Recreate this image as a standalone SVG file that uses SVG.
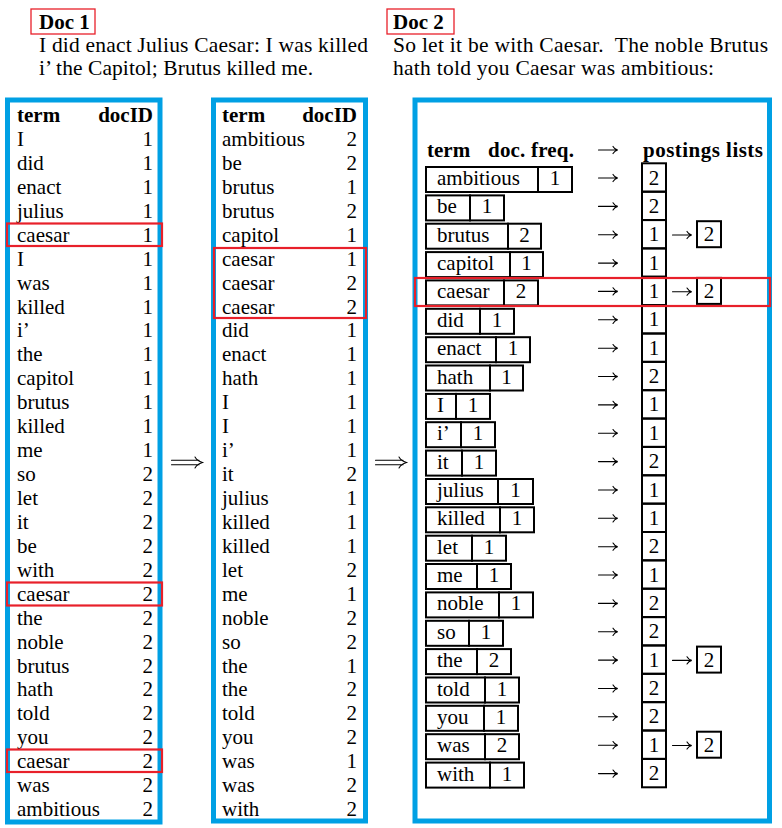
<svg xmlns="http://www.w3.org/2000/svg" width="782" height="828" viewBox="0 0 782 828">
<style>
text{font-family:"Liberation Serif","Times New Roman",serif;font-size:21px;fill:#000}
.b{font-weight:bold}
.r{text-anchor:end}
.m{text-anchor:middle}
.top{font-size:21.5px}
.blue{fill:#fff;stroke:#00a0e4;stroke-width:5}
.red{fill:none;stroke:#e8202a;stroke-width:2.2}
.redt{fill:none;stroke:#e8202a;stroke-width:1.3}
.bx{fill:none;stroke:#000;stroke-width:2}
.arr{fill:none;stroke:#000;stroke-width:1.1;stroke-linecap:round}
</style>
<defs>
<path id="ra" class="arr" d="M-9.5,0 H9 M5,-3.6 Q6.5,-0.8 9.7,0 Q6.5,0.8 5,3.6"/>
<path id="da" class="arr" d="M-15.5,-2.2 H12 M-15.5,2.2 H12 M8,-5.5 Q10,-1.8 15.5,0 Q10,1.8 8,5.5"/>
</defs>
<rect width="782" height="828" fill="#fff"/>

<g id="doc1">
<rect class="redt" x="31" y="9" width="64" height="25"/>
<text class="b" x="39" y="29">Doc 1</text>
<text class="top" x="39" y="52" textLength="329" lengthAdjust="spacing">I did enact Julius Caesar: I was killed</text>
<text class="top" x="39" y="75" textLength="274" lengthAdjust="spacing">i’ the Capitol; Brutus killed me.</text>
</g>

<g id="doc2">
<rect class="redt" x="387" y="9" width="67" height="25"/>
<text class="b" x="393" y="29">Doc 2</text>
<text class="top" x="393" y="52" xml:space="preserve" textLength="375" lengthAdjust="spacing">So let it be with Caesar.  The noble Brutus</text>
<text class="top" x="393" y="75" textLength="321" lengthAdjust="spacing">hath told you Caesar was ambitious:</text>
</g>

<g id="list1">
<rect class="blue" x="7.5" y="100" width="152.5" height="722"/>
<text class="b" x="17" y="122">term</text><text class="b r" x="153" y="122">docID</text>
<g>
<text x="17" y="146">I</text><text class="r" x="153" y="146">1</text>
<text x="17" y="169.9">did</text><text class="r" x="153" y="169.9">1</text>
<text x="17" y="193.9">enact</text><text class="r" x="153" y="193.9">1</text>
<text x="17" y="217.8">julius</text><text class="r" x="153" y="217.8">1</text>
<text x="17" y="241.7">caesar</text><text class="r" x="153" y="241.7">1</text>
<text x="17" y="265.7">I</text><text class="r" x="153" y="265.7">1</text>
<text x="17" y="289.6">was</text><text class="r" x="153" y="289.6">1</text>
<text x="17" y="313.5">killed</text><text class="r" x="153" y="313.5">1</text>
<text x="17" y="337.4">i’</text><text class="r" x="153" y="337.4">1</text>
<text x="17" y="361.4">the</text><text class="r" x="153" y="361.4">1</text>
<text x="17" y="385.3">capitol</text><text class="r" x="153" y="385.3">1</text>
<text x="17" y="409.2">brutus</text><text class="r" x="153" y="409.2">1</text>
<text x="17" y="433.2">killed</text><text class="r" x="153" y="433.2">1</text>
<text x="17" y="457.1">me</text><text class="r" x="153" y="457.1">1</text>
<text x="17" y="481">so</text><text class="r" x="153" y="481">2</text>
<text x="17" y="505">let</text><text class="r" x="153" y="505">2</text>
<text x="17" y="528.9">it</text><text class="r" x="153" y="528.9">2</text>
<text x="17" y="552.8">be</text><text class="r" x="153" y="552.8">2</text>
<text x="17" y="576.7">with</text><text class="r" x="153" y="576.7">2</text>
<text x="17" y="600.7">caesar</text><text class="r" x="153" y="600.7">2</text>
<text x="17" y="624.6">the</text><text class="r" x="153" y="624.6">2</text>
<text x="17" y="648.5">noble</text><text class="r" x="153" y="648.5">2</text>
<text x="17" y="672.5">brutus</text><text class="r" x="153" y="672.5">2</text>
<text x="17" y="696.4">hath</text><text class="r" x="153" y="696.4">2</text>
<text x="17" y="720.3">told</text><text class="r" x="153" y="720.3">2</text>
<text x="17" y="744.3">you</text><text class="r" x="153" y="744.3">2</text>
<text x="17" y="768.2">caesar</text><text class="r" x="153" y="768.2">2</text>
<text x="17" y="792.1">was</text><text class="r" x="153" y="792.1">2</text>
<text x="17" y="816">ambitious</text><text class="r" x="153" y="816">2</text>
</g>
<rect class="red" x="7" y="223.5" width="155" height="22.5"/>
<rect class="red" x="7" y="582.5" width="155" height="23"/>
<rect class="red" x="7" y="749.5" width="155" height="22.5"/>
</g>

<g id="list2">
<rect class="blue" x="213.5" y="100" width="152" height="721"/>
<text class="b" x="222" y="122">term</text><text class="b r" x="357" y="122">docID</text>
<g>
<text x="222" y="146">ambitious</text><text class="r" x="357" y="146">2</text>
<text x="222" y="169.9">be</text><text class="r" x="357" y="169.9">2</text>
<text x="222" y="193.9">brutus</text><text class="r" x="357" y="193.9">1</text>
<text x="222" y="217.8">brutus</text><text class="r" x="357" y="217.8">2</text>
<text x="222" y="241.7">capitol</text><text class="r" x="357" y="241.7">1</text>
<text x="222" y="265.7">caesar</text><text class="r" x="357" y="265.7">1</text>
<text x="222" y="289.6">caesar</text><text class="r" x="357" y="289.6">2</text>
<text x="222" y="313.5">caesar</text><text class="r" x="357" y="313.5">2</text>
<text x="222" y="337.4">did</text><text class="r" x="357" y="337.4">1</text>
<text x="222" y="361.4">enact</text><text class="r" x="357" y="361.4">1</text>
<text x="222" y="385.3">hath</text><text class="r" x="357" y="385.3">1</text>
<text x="222" y="409.2">I</text><text class="r" x="357" y="409.2">1</text>
<text x="222" y="433.2">I</text><text class="r" x="357" y="433.2">1</text>
<text x="222" y="457.1">i’</text><text class="r" x="357" y="457.1">1</text>
<text x="222" y="481">it</text><text class="r" x="357" y="481">2</text>
<text x="222" y="505">julius</text><text class="r" x="357" y="505">1</text>
<text x="222" y="528.9">killed</text><text class="r" x="357" y="528.9">1</text>
<text x="222" y="552.8">killed</text><text class="r" x="357" y="552.8">1</text>
<text x="222" y="576.7">let</text><text class="r" x="357" y="576.7">2</text>
<text x="222" y="600.7">me</text><text class="r" x="357" y="600.7">1</text>
<text x="222" y="624.6">noble</text><text class="r" x="357" y="624.6">2</text>
<text x="222" y="648.5">so</text><text class="r" x="357" y="648.5">2</text>
<text x="222" y="672.5">the</text><text class="r" x="357" y="672.5">1</text>
<text x="222" y="696.4">the</text><text class="r" x="357" y="696.4">2</text>
<text x="222" y="720.3">told</text><text class="r" x="357" y="720.3">2</text>
<text x="222" y="744.3">you</text><text class="r" x="357" y="744.3">2</text>
<text x="222" y="768.2">was</text><text class="r" x="357" y="768.2">1</text>
<text x="222" y="792.1">was</text><text class="r" x="357" y="792.1">2</text>
<text x="222" y="816">with</text><text class="r" x="357" y="816">2</text>
</g>
<rect class="red" x="214" y="248" width="152" height="70"/>
</g>

<g id="index">
<rect class="blue" x="415" y="100" width="354.5" height="721" stroke-width="4.5"/>
<text class="b" x="427" y="157">term</text>
<text class="b" x="488" y="157" textLength="86" lengthAdjust="spacing">doc. freq.</text>
<text class="b" x="643" y="157" textLength="120" lengthAdjust="spacing">postings lists</text>

<g id="terms">
<rect class="bx" x="426" y="167" width="112" height="25"/><rect class="bx" x="538" y="167" width="34" height="25"/>
<text x="437" y="185">ambitious</text><text class="m" x="555" y="185">1</text>
<rect class="bx" x="426" y="195.4" width="44" height="25"/><rect class="bx" x="470" y="195.4" width="34" height="25"/>
<text x="437" y="213.4">be</text><text class="m" x="487" y="213.4">1</text>
<rect class="bx" x="426" y="223.7" width="82" height="25"/><rect class="bx" x="508" y="223.7" width="33" height="25"/>
<text x="437" y="241.7">brutus</text><text class="m" x="524.5" y="241.7">2</text>
<rect class="bx" x="426" y="252.1" width="84" height="25"/><rect class="bx" x="510" y="252.1" width="33" height="25"/>
<text x="437" y="270.1">capitol</text><text class="m" x="526.5" y="270.1">1</text>
<rect class="bx" x="426" y="280.4" width="78" height="25"/><rect class="bx" x="504" y="280.4" width="34" height="25"/>
<text x="437" y="298.4">caesar</text><text class="m" x="521" y="298.4">2</text>
<rect class="bx" x="426" y="308.8" width="54" height="25"/><rect class="bx" x="480" y="308.8" width="34" height="25"/>
<text x="437" y="326.8">did</text><text class="m" x="497" y="326.8">1</text>
<rect class="bx" x="426" y="337.2" width="70" height="25"/><rect class="bx" x="496" y="337.2" width="34" height="25"/>
<text x="437" y="355.2">enact</text><text class="m" x="513" y="355.2">1</text>
<rect class="bx" x="426" y="365.5" width="64" height="25"/><rect class="bx" x="490" y="365.5" width="33" height="25"/>
<text x="437" y="383.5">hath</text><text class="m" x="506.5" y="383.5">1</text>
<rect class="bx" x="426" y="393.9" width="30" height="25"/><rect class="bx" x="456" y="393.9" width="34" height="25"/>
<text x="437" y="411.9">I</text><text class="m" x="473" y="411.9">1</text>
<rect class="bx" x="426" y="422.2" width="35" height="25"/><rect class="bx" x="461" y="422.2" width="34" height="25"/>
<text x="437" y="440.2">i’</text><text class="m" x="478" y="440.2">1</text>
<rect class="bx" x="426" y="450.6" width="36" height="25"/><rect class="bx" x="462" y="450.6" width="34" height="25"/>
<text x="437" y="468.6">it</text><text class="m" x="479" y="468.6">1</text>
<rect class="bx" x="426" y="479" width="72" height="25"/><rect class="bx" x="498" y="479" width="35" height="25"/>
<text x="437" y="497">julius</text><text class="m" x="515.5" y="497">1</text>
<rect class="bx" x="426" y="507.3" width="74" height="25"/><rect class="bx" x="500" y="507.3" width="34" height="25"/>
<text x="437" y="525.3">killed</text><text class="m" x="517" y="525.3">1</text>
<rect class="bx" x="426" y="535.7" width="46" height="25"/><rect class="bx" x="472" y="535.7" width="34" height="25"/>
<text x="437" y="553.7">let</text><text class="m" x="489" y="553.7">1</text>
<rect class="bx" x="426" y="564" width="51" height="25"/><rect class="bx" x="477" y="564" width="34" height="25"/>
<text x="437" y="582">me</text><text class="m" x="494" y="582">1</text>
<rect class="bx" x="426" y="592.4" width="73" height="25"/><rect class="bx" x="499" y="592.4" width="34" height="25"/>
<text x="437" y="610.4">noble</text><text class="m" x="516" y="610.4">1</text>
<rect class="bx" x="426" y="620.8" width="43" height="25"/><rect class="bx" x="469" y="620.8" width="34" height="25"/>
<text x="437" y="638.8">so</text><text class="m" x="486" y="638.8">1</text>
<rect class="bx" x="426" y="649.1" width="51" height="25"/><rect class="bx" x="477" y="649.1" width="34" height="25"/>
<text x="437" y="667.1">the</text><text class="m" x="494" y="667.1">2</text>
<rect class="bx" x="426" y="677.5" width="59" height="25"/><rect class="bx" x="485" y="677.5" width="34" height="25"/>
<text x="437" y="695.5">told</text><text class="m" x="502" y="695.5">1</text>
<rect class="bx" x="426" y="705.8" width="58" height="25"/><rect class="bx" x="484" y="705.8" width="34" height="25"/>
<text x="437" y="723.8">you</text><text class="m" x="501" y="723.8">1</text>
<rect class="bx" x="426" y="734.2" width="59" height="25"/><rect class="bx" x="485" y="734.2" width="34" height="25"/>
<text x="437" y="752.2">was</text><text class="m" x="502" y="752.2">2</text>
<rect class="bx" x="426" y="762.6" width="64" height="25"/><rect class="bx" x="490" y="762.6" width="34" height="25"/>
<text x="437" y="780.6">with</text><text class="m" x="507" y="780.6">1</text>
</g>

<g id="postings">
<rect class="bx" x="642" y="163.3" width="24" height="28.4"/><text class="m" x="654" y="184.5">2</text>
<rect class="bx" x="642" y="191.7" width="24" height="28.4"/><text class="m" x="654" y="212.9">2</text>
<rect class="bx" x="642" y="220" width="24" height="28.4"/><text class="m" x="654" y="241.2">1</text>
<rect class="bx" x="642" y="248.4" width="24" height="28.4"/><text class="m" x="654" y="269.6">1</text>
<rect class="bx" x="642" y="276.7" width="24" height="28.4"/><text class="m" x="654" y="297.9">1</text>
<rect class="bx" x="642" y="305.1" width="24" height="28.4"/><text class="m" x="654" y="326.3">1</text>
<rect class="bx" x="642" y="333.5" width="24" height="28.4"/><text class="m" x="654" y="354.7">1</text>
<rect class="bx" x="642" y="361.8" width="24" height="28.4"/><text class="m" x="654" y="383">2</text>
<rect class="bx" x="642" y="390.2" width="24" height="28.4"/><text class="m" x="654" y="411.4">1</text>
<rect class="bx" x="642" y="418.5" width="24" height="28.4"/><text class="m" x="654" y="439.7">1</text>
<rect class="bx" x="642" y="446.9" width="24" height="28.4"/><text class="m" x="654" y="468.1">2</text>
<rect class="bx" x="642" y="475.3" width="24" height="28.4"/><text class="m" x="654" y="496.5">1</text>
<rect class="bx" x="642" y="503.6" width="24" height="28.4"/><text class="m" x="654" y="524.8">1</text>
<rect class="bx" x="642" y="532" width="24" height="28.4"/><text class="m" x="654" y="553.2">2</text>
<rect class="bx" x="642" y="560.3" width="24" height="28.4"/><text class="m" x="654" y="581.5">1</text>
<rect class="bx" x="642" y="588.7" width="24" height="28.4"/><text class="m" x="654" y="609.9">2</text>
<rect class="bx" x="642" y="617.1" width="24" height="28.4"/><text class="m" x="654" y="638.3">2</text>
<rect class="bx" x="642" y="645.4" width="24" height="28.4"/><text class="m" x="654" y="666.6">1</text>
<rect class="bx" x="642" y="673.8" width="24" height="28.4"/><text class="m" x="654" y="695">2</text>
<rect class="bx" x="642" y="702.1" width="24" height="28.4"/><text class="m" x="654" y="723.3">2</text>
<rect class="bx" x="642" y="730.5" width="24" height="28.4"/><text class="m" x="654" y="751.7">1</text>
<rect class="bx" x="642" y="758.9" width="24" height="28.4"/><text class="m" x="654" y="780.1">2</text>
<rect class="bx" x="697" y="221.2" width="24" height="26"/><text class="m" x="709" y="241.2">2</text>
<rect class="bx" x="697" y="277.9" width="24" height="26"/><text class="m" x="709" y="297.9">2</text>
<rect class="bx" x="697" y="646.6" width="24" height="26"/><text class="m" x="709" y="666.6">2</text>
<rect class="bx" x="697" y="731.7" width="24" height="26"/><text class="m" x="709" y="751.7">2</text>
</g>
<rect class="red" x="415" y="278" width="355" height="28"/>
</g>

<g id="connectors">
<use href="#ra" x="608" y="150"/>
<use href="#ra" x="608" y="178"/>
<use href="#ra" x="608" y="206.4"/>
<use href="#ra" x="608" y="234.7"/>
<use href="#ra" x="608" y="263.1"/>
<use href="#ra" x="608" y="291.4"/>
<use href="#ra" x="608" y="319.8"/>
<use href="#ra" x="608" y="348.2"/>
<use href="#ra" x="608" y="376.5"/>
<use href="#ra" x="608" y="404.9"/>
<use href="#ra" x="608" y="433.2"/>
<use href="#ra" x="608" y="461.6"/>
<use href="#ra" x="608" y="490"/>
<use href="#ra" x="608" y="518.3"/>
<use href="#ra" x="608" y="546.7"/>
<use href="#ra" x="608" y="575"/>
<use href="#ra" x="608" y="603.4"/>
<use href="#ra" x="608" y="631.8"/>
<use href="#ra" x="608" y="660.1"/>
<use href="#ra" x="608" y="688.5"/>
<use href="#ra" x="608" y="716.8"/>
<use href="#ra" x="608" y="745.2"/>
<use href="#ra" x="608" y="773.6"/>
<use href="#ra" x="682" y="235"/>
<use href="#ra" x="682" y="291.7"/>
<use href="#ra" x="682" y="660.4"/>
<use href="#ra" x="682" y="745.5"/>
<use href="#da" x="187" y="462.5"/>
<use href="#da" x="391" y="462.5"/>
</g>
</svg>
